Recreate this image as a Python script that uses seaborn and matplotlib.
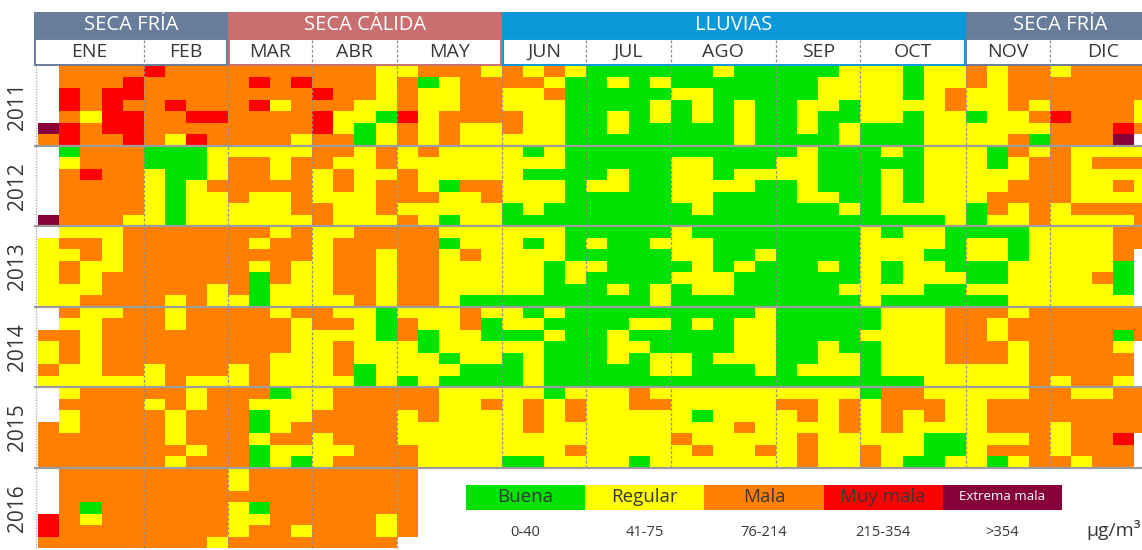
import numpy as np
import pandas as pd
import matplotlib
matplotlib.use("Agg")
import matplotlib.pyplot as plt
import seaborn as sns
from matplotlib.colors import ListedColormap
from matplotlib.patches import Rectangle

sns.set_theme(style="white")
plt.rcParams["font.family"] = ["Open Sans", "DejaVu Sans"]

# ---------------------------------------------------------------- data
YEARS = [2011, 2012, 2013, 2014, 2015, 2016]
MONTHS = ["ENE", "FEB", "MAR", "ABR", "MAY", "JUN",
          "JUL", "AGO", "SEP", "OCT", "NOV", "DIC"]
SEASONS = ["SECA FRÍA", "SECA CÁLIDA", "LLUVIAS", "SECA FRÍA"]
SEASON_MONTHS = [(0, 2), (2, 5), (5, 10), (10, 12)]
SEASON_COLORS = ["#687d99", "#c96f70", "#0a98d8", "#687d99"]

LEVELS = ["Buena", "Regular", "Mala", "Muy mala", "Extrema mala"]
RANGES = ["0-40", "41-75", "76-214", "215-354", ">354"]
LEVEL_COLORS = ["#00e200", "#ffff00", "#ff7f00", "#ff0000", "#86003a"]
LEVEL_CODES = "GYORM"   # Buena, Regular, Mala, Muy mala, Extrema mala ('.' = sin dato)

# Daily PM10 category. One string per weekday (lunes ... domingo),
# one character per calendar week, months separated by spaces.
ICA_2011 = [
    ".OOOO ROOO OOOO OOOY YOOOY OYOY GGGG GGYGG GGGY YYGYY OYOO YOOOO",
    ".OOOR OOOO OROR OOOY OGYOO OOYG GYGY GGGGG GGYY YYGYY OYOO OOOOO",
    ".RORR OOOO OOOO ROOY OYYOO YYOG GGGG YYGGG GGYY YYGYO YYOO OOOOO",
    ".RORO OROO ORYO OOYY OYYOO YYYG GGGY GYGYG GYYG YYYYO YYOY OOOOY",
    ".OYRR OORR OOOO RYYG RYOOO OYYG GYGY GYGYG GYGG YYGYY GYYO ROOOY",
    "MRORR OOOO OOOO RYGY OYOYY OYYG GYGG GGGYG GYGY GGGYY YYYY OOORO",
    "OROOR OYRO OOOY OOGY OYOYY YYYG GGGG GGGYG GGGY GGGYY YYOG OOOM.",
]
ICA_2012 = [
    ".GOOO GGGY YYYY OOYO YOYYY YGYG GGGG GGGGG GYGG GYGYY YGOY OYYYY",
    ".YOOO GGGY OOYO OYYO YYYYY YYYG GGGG YYGGG YYGG GGGYY YGYO OYOOO",
    ".OROO YGGY OOYO YOYY OYYYY YGGG GYGG YYGYY YYGG GYGYY YYYO OYYYY",
    ".OOOO YGYO OOOO YOYO OYGOO YYYG YYGG YYYYG GYGG GYGYY YYOO OYYOY",
    ".OOOO YGYY OYYO YYYO OOYYO YYYG GGGG YYGGG GYYG GYGYY YOOO OYYYY",
    ".OOOO YGYY YYYO OYYO YYYYY GYGG GGGG GYGGG GGGY GYYYY GOYO YOOOO",
    "MOOOY YGYY YYYY OYYY OYGYY GGGG GGGG GGGGG GGGG GGGGY GYYO YYYYO",
]
ICA_2013 = [
    ".YYYO OOOO OOYO YYOO OOYYY YYYG GGGG YGGGG GGGG YGYYG GGGY YYYOO",
    "YOOYO OOOO OYOO YOOO OOGYY YGYG YGGY YYGGG GGGG YYYYG YYGY YYYOO",
    "YYOYO OOOO OOOO YOOY OOYOY YYYG GGGG YYGGY GGGG YYYGG YYGY YYYO.",
    "YOYYO OOOO OYOY YOOY OOYYY YYGY YGGG GYGYG GGYG YGYYG GGYY YYYG.",
    "YOYOO OOOO OGOY YOOY OOYYY YYGY GGGG YYYGG GGGG YGYYY GGYY YYOG.",
    "YYYOO OOOY OGYY YOOY OOYYY YYGG GYGY GYYGG GGGY YYYGG YYYY YYYG.",
    "YYOOO OYOY YGYY YYOY OOYGG GGGG GGGY GGGGG GGGG YGGGG GGYY YYYY.",
]
ICA_2014 = [
    ".OYYO OYOO OOYO OYYG YYYOY YGYG GGGG GGGGY GGGG GYYYO OOYO OOOOO",
    ".YYOO OYOO OOOY OOYG OYYOG YYGG GGYY GYGYY GGGG GYYYO OYOO OOOOO",
    "OOYOO OOOO OOOY YYYG OGYYG GGYG GYGG GGGYY GGGG YYYYO OYOO OOOGO",
    "YOYOO OOOO OOOY YOYY YGYYY YYGG GYYG GGGYY GGYG GYYYO OOYO OOOY.",
    "YOYOO OOOO OOYY YOYY YYGYY GYGG GYGY YGYYY GGYY GYYYO OOYO OOOO.",
    "OYYOO YOOO YOYY YOGY YYYGG GYGG GGGY YGGGY GYYY GYYYY YYYO OOOO.",
    "YYYYY YOYY YOYY YYGY GYGGG GYGG GGGG GGGGG GGGG GGGYY YYYO YOOY.",
]
ICA_2015 = [
    ".YOOO OOYO OOGY YOOO OOYYY YYGY YYOY YYYYY YYYY GOOYY YYYO OYYOO",
    ".OOOO YOYO OYYY YOOO OOYYO YOYO YYOO YYYYY OOYO YOOOY YOOO OOOOO",
    ".YOOO OYOO OGYY OOOO YOYYY YOYO YYYY YGYYY YOYO YOYOY YOOO OOOOO",
    "OYOOO OYOO OGYO OOOO YYYYY YOYY YYYY YYYOY YYYO YOYYY YOOO YOOOO",
    "OOOOO OYOO OYOO YOOO YYYYY YYYY YYYY OYYYY YOYY YYYGG YYYO YOOR.",
    "OOOOO OOYO OGYY YYOO OYYYY YYYO YYYY YOYYO YOYY OYYGG YOOO YOOO.",
    "OOOOO OYOO OGYG YOOO OYYYY GGYY YYGY YYYYY YOYY OYGGY YGYO OYOO.",
]
ICA_2016 = [
    ".OOOO OOOO YOOO OOOO O",
    ".OOOO OOOO YOOO OOOO O",
    ".OOOO OOOO OOOO OOOO O",
    ".OGOO OOOO YGOO OOOO O",
    "ROYOO OOOO YYOO OOOY O",
    "ROOOO OOOO YOOY OOOY O",
    "OOOOO OOOY OOOO OOOO .",
]
YEAR_ROWS = [ICA_2011, ICA_2012, ICA_2013, ICA_2014, ICA_2015, ICA_2016]

# week column where each month's band begins (last value closes December)
MONTH_WEEK_EDGES = [0, 5, 9, 13, 17, 22, 26, 30, 35, 39, 44, 48, 53]
N_WEEKS = 53


# ---------------------------------------------------------------- daily table
def year_frame(year, rows):
    first = pd.Timestamp(year, 1, 1)
    monday = first - pd.Timedelta(days=first.weekday())
    recs = []
    for wd, row in enumerate(rows):
        for wk, ch in enumerate(row.replace(" ", "")):
            if ch in LEVEL_CODES:
                day = monday + pd.Timedelta(days=7 * wk + wd)
                if day.year == year:
                    recs.append((day, year, wk, wd, LEVEL_CODES.index(ch)))
    return pd.DataFrame(recs, columns=["fecha", "anio", "semana", "dia", "nivel"])


daily = pd.concat([year_frame(y, r) for y, r in zip(YEARS, YEAR_ROWS)],
                  ignore_index=True)
daily["fila"] = (daily["anio"] - YEARS[0]) * 7 + daily["dia"]
grid = (daily.pivot(index="fila", columns="semana", values="nivel")
        .reindex(index=range(7 * len(YEARS)), columns=range(N_WEEKS)))

# ---------------------------------------------------------------- layout
W, H = 1142, 550
X0, CW = 38.3, 21.08          # grid left edge and week width (px)
Y0, Y1 = 65.5, 548.0          # grid top / bottom (px)
RH = (Y1 - Y0) / grid.shape[0]


def xw(week):
    return X0 + week * CW


fig = plt.figure(figsize=(W / 100, H / 100), dpi=100)
fig.patch.set_facecolor("white")

ax = fig.add_axes([X0 / W, 1 - Y1 / H, N_WEEKS * CW / W, (Y1 - Y0) / H])
sns.heatmap(grid, ax=ax, cmap=ListedColormap(LEVEL_COLORS), vmin=-0.5, vmax=4.5,
            cbar=False, xticklabels=False, yticklabels=False, linewidths=0)
ax.set_xlabel("")
ax.set_ylabel("")
ax.set_facecolor("white")

ov = fig.add_axes([0, 0, 1, 1], zorder=5)
ov.set_xlim(0, W)
ov.set_ylim(H, 0)
ov.axis("off")
ov.patch.set_alpha(0)

TXT = "#383838"
GRID_LINE = "#9c9c9c"

# month separators running through the calendar
last_week_2016 = daily.loc[daily["anio"] == YEARS[-1], "semana"].max() + 1
for e in MONTH_WEEK_EDGES[1:-1]:
    ybot = Y1 if e <= last_week_2016 else Y0 + 35 * RH
    ov.plot([xw(e), xw(e)], [Y0, ybot], color="#8f8f8f", lw=0.9,
            ls=(0, (2.2, 1.6)), zorder=3)

# year separators
for k in range(1, len(YEARS)):
    y = Y0 + 7 * k * RH
    ov.plot([34, W], [y, y], color=GRID_LINE, lw=1.6, zorder=4,
            solid_capstyle="butt")
ov.plot([35.5, 35.5], [Y0, Y1], color="#b0b0b0", lw=1.0, ls=(0, (1, 1)))

# year labels
for k, year in enumerate(YEARS):
    ov.text(18, Y0 + (7 * k + 3.5) * RH, str(year), rotation=90,
            ha="center", va="center", fontsize=15, color=TXT)

# header: seasons and months
for name, (m0, m1), col in zip(SEASONS, SEASON_MONTHS, SEASON_COLORS):
    x0 = 34 if m0 == 0 else xw(MONTH_WEEK_EDGES[m0])
    x1 = xw(MONTH_WEEK_EDGES[m1])
    ov.add_patch(Rectangle((x0, 11.5), x1 - x0, 26.5, facecolor=col,
                           edgecolor="none", zorder=4))
    ov.text((x0 + x1) / 2, 25.5, name, ha="center", va="center",
            fontsize=14.5, color="white", zorder=5)
    ov.add_patch(Rectangle((x0 + 0.6, 38.5), x1 - x0 - 1.2, 26.5, facecolor="white",
                           edgecolor=col, lw=1.4, zorder=4))
    for m in range(m0 + 1, m1):
        xe = xw(MONTH_WEEK_EDGES[m])
        ov.plot([xe, xe], [39.5, 64.5], color="#8f8f8f", lw=0.9,
                ls=(0, (2.2, 1.6)), zorder=5)

for m, label in enumerate(MONTHS):
    xa = 34 if m == 0 else xw(MONTH_WEEK_EDGES[m])
    xb = xw(MONTH_WEEK_EDGES[m + 1])
    ov.text((xa + xb) / 2, 52, label, ha="center", va="center",
            fontsize=14, color=TXT, zorder=6)

# legend
LX0, LW, LY0, LH = 466, 119.2, 484.5, 25
for i, (lab, rng, col) in enumerate(zip(LEVELS, RANGES, LEVEL_COLORS)):
    x = LX0 + i * LW
    ov.add_patch(Rectangle((x, LY0), LW, LH, facecolor=col, edgecolor="none", zorder=4))
    last = i == len(LEVELS) - 1
    ov.text(x + LW / 2, LY0 + LH / 2, lab, ha="center", va="center",
            fontsize=9.5 if last else 13.5, color="white" if last else TXT, zorder=5)
    ov.text(x + LW / 2, 532, rng, ha="center", va="center",
            fontsize=10.5, color=TXT, zorder=5)
ov.text(1114, 530, "µg/m³", ha="center", va="center", fontsize=14, color=TXT)

fig.savefig("out.png", dpi=100, facecolor="white")
